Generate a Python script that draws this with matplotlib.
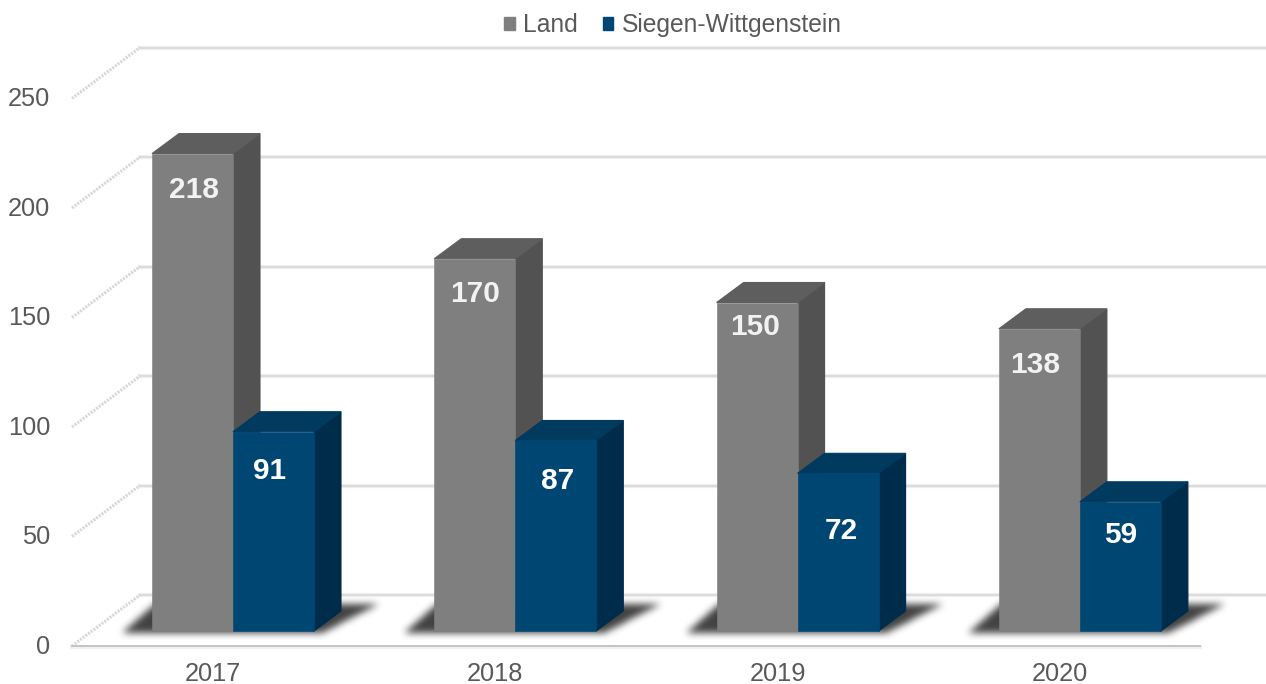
import matplotlib
matplotlib.use("Agg")
import matplotlib.pyplot as plt
import numpy as np
from matplotlib.path import Path
from matplotlib.patches import Polygon, Patch

plt.rcParams["font.family"] = ["Liberation Sans", "DejaVu Sans"]

# data
years = ["2017", "2018", "2019", "2020"]
land = [218, 170, 150, 138]
siegen = [91, 87, 72, 59]
y_ticks = [0, 50, 100, 150, 200, 250]

# pseudo 3d geometry
PX_X = 282.3   # pixels per category
PX_Y = 2.19    # pixels per value unit
BAR_W = 81 / PX_X
DEPTH_X = 27 / PX_X
DEPTH_Y = 20 / PX_Y
WALL_Y = 36 / PX_Y      # back wall floor above bar base
FRONT_Y = -15 / PX_Y    # front edge of floor below bar base
WALL_X = (140 - 233) / PX_X
EDGE_X = (72 - 233) / PX_X

GREY = ("#7f7f7f", "#5e5e5e", "#525252")
BLUE = ("#004673", "#003a5f", "#002c4c")
TEXT = "#595959"
GRID = "#dcdcdc"

fig = plt.figure(figsize=(12.66, 6.84), dpi=100)
ax = fig.add_axes([0, 0, 1, 1])
xlim = (-233 / PX_X, (1266 - 233) / PX_X)
ylim = ((631 - 684) / PX_Y, 631 / PX_Y)
ax.set_xlim(xlim)
ax.set_ylim(ylim)
ax.axis("off")

# back wall grid + left diagonals
for t in y_ticks:
    ax.plot([WALL_X, 4], [t + WALL_Y, t + WALL_Y], color="#f0f0f0", lw=3.0, zorder=1)
    ax.plot([WALL_X, 4], [t + WALL_Y, t + WALL_Y], color=GRID, lw=1.5, zorder=1)
    ax.plot([EDGE_X, WALL_X], [t + FRONT_Y, t + WALL_Y], color="#d8d8d8", lw=2.2,
            ls=(0, (0.7, 0.4)), zorder=1)

# front edge of the floor
ax.plot([EDGE_X, (1200 - 233) / PX_X], [FRONT_Y - 0.5, FRONT_Y - 0.5], color="#f0f0f0", lw=3, zorder=1)
ax.plot([EDGE_X, (1200 - 233) / PX_X], [FRONT_Y, FRONT_Y], color="#c0c0c0", lw=1.3, zorder=1)


def blur(a, r, passes=3):
    kernel = np.ones(2 * r + 1) / (2 * r + 1)
    for _ in range(passes):
        a = np.apply_along_axis(lambda v: np.convolve(v, kernel, mode="same"), 0, a)
        a = np.apply_along_axis(lambda v: np.convolve(v, kernel, mode="same"), 1, a)
    return a


# soft floor shadows under each group, one pixel per cell
xs = np.linspace(xlim[0], xlim[1], 1266)
ys = np.linspace(-20 / PX_Y, 40 / PX_Y, 60)
gx, gy = np.meshgrid(xs, ys)
pts = np.column_stack([gx.ravel(), gy.ravel()])
mask = np.zeros(gx.shape)
for i in range(len(years)):
    left = i - BAR_W
    right = i + BAR_W
    shape = [(left - 30 / PX_X, -2 / PX_Y), (left + 2 / PX_X, 27 / PX_Y),
             (right + 64 / PX_X, 27 / PX_Y), (right + 8 / PX_X, -2 / PX_Y)]
    mask += Path(shape).contains_points(pts).reshape(gx.shape)
mask = blur(mask, 3)
rgba = np.zeros(gx.shape + (4,))
rgba[..., :3] = 0.22
rgba[..., 3] = mask * 0.95
ax.imshow(rgba, extent=(xlim[0], xlim[1], ys[0], ys[-1]), origin="lower", aspect="auto", zorder=2,
          interpolation="bilinear")
ax.set_xlim(xlim)
ax.set_ylim(ylim)


def draw_box(x, h, colors, z):
    front, top, side = colors
    ax.add_patch(Polygon([(x + BAR_W, 0), (x + BAR_W + DEPTH_X, DEPTH_Y),
                          (x + BAR_W + DEPTH_X, h + DEPTH_Y), (x + BAR_W, h)],
                         facecolor=side, edgecolor=side, lw=0.8, zorder=z))
    ax.add_patch(Polygon([(x, h), (x + DEPTH_X, h + DEPTH_Y),
                          (x + BAR_W + DEPTH_X, h + DEPTH_Y), (x + BAR_W, h)],
                         facecolor=top, edgecolor=top, lw=0.8, zorder=z))
    ax.bar(x, h, width=BAR_W, align="edge", color=front, edgecolor=front, lw=0.4, zorder=z + 0.1)


for i in range(len(years)):
    draw_box(i - BAR_W, land[i], GREY, 3)
    draw_box(i, siegen[i], BLUE, 4)

# value labels, nudged like the original (points)
land_nudge = [(1, -26.5), (0, -25.5), (-1.5, -17.5), (-3, -26)]
siegen_nudge = [(-3, -28.5), (1, -29.5), (2, -41.5), (0, -24)]
for i in range(len(years)):
    ax.annotate(str(land[i]), (i - BAR_W / 2, land[i]), xytext=land_nudge[i],
                textcoords="offset points", ha="center", va="center", color="#f2f2f2",
                fontsize=21.5, fontweight="bold", zorder=6)
    ax.annotate(str(siegen[i]), (i + BAR_W / 2, siegen[i]), xytext=siegen_nudge[i],
                textcoords="offset points", ha="center", va="center", color="white",
                fontsize=21.5, fontweight="bold", zorder=6)

# axis labels
for t in y_ticks:
    ax.text((50 - 233) / PX_X, t + FRONT_Y - 0.4, str(t), ha="right", va="center", color=TEXT, fontsize=18.3)
for i, y in enumerate(years):
    ax.text(i - 20 / PX_X, (631 - 674) / PX_Y, y, ha="center", va="center", color=TEXT, fontsize=18.3)

handles = [Patch(color=GREY[0], label="Land"), Patch(color=BLUE[0], label="Siegen-Wittgenstein")]
ax.legend(handles=handles, loc="center", bbox_to_anchor=(673 / 1266, 1 - 25 / 684), ncol=2, frameon=False,
          fontsize=17.7, labelcolor=TEXT, handlelength=0.42, handleheight=0.42,
          handletextpad=0.35, columnspacing=1.0)

fig.savefig("out.png", dpi=100)
